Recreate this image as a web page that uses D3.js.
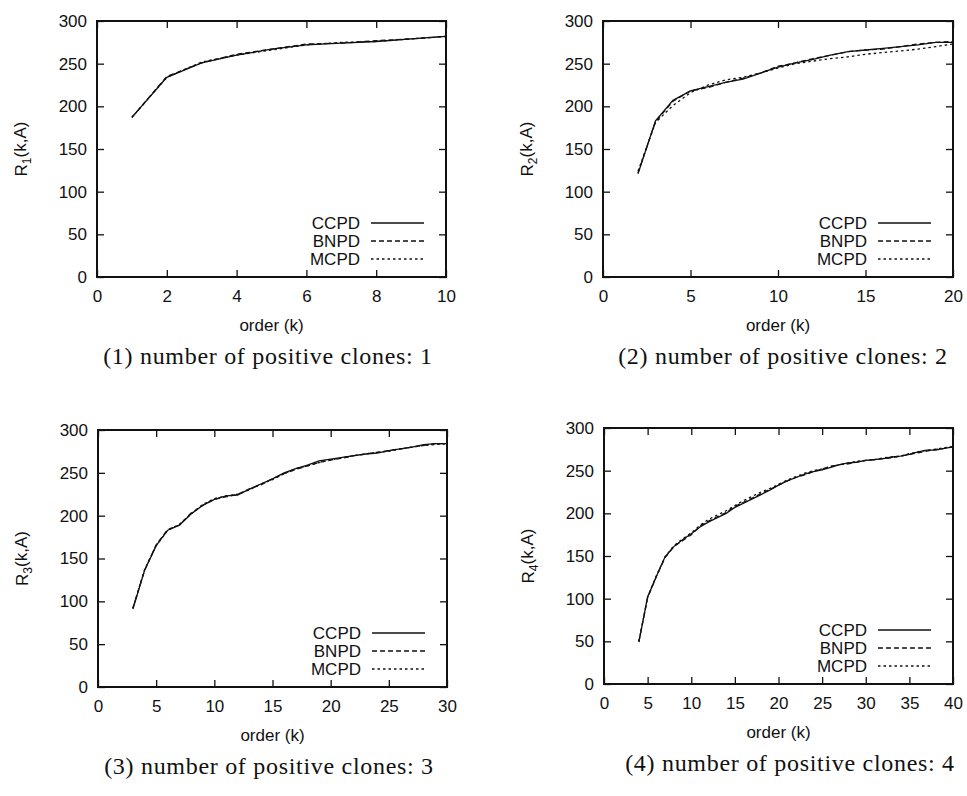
<!DOCTYPE html>
<html>
<head>
<meta charset="utf-8">
<script src="https://cdn.jsdelivr.net/npm/d3@7"></script>
<style>
  body { margin: 0; background: #fff; }
  .tick text, .lbl { font-family: "Liberation Sans Narrow", "Liberation Sans", Arial, sans-serif; font-size: 17px; fill: #111; }
  .cap { font-family: "Liberation Serif", "DejaVu Serif", serif; font-size: 24px; letter-spacing: 0.7px; fill: #111; }
</style>
</head>
<body>
<div id="chart"></div>
<script>
// order k per panel
const order1 = [1, 2, 3, 4, 5, 6, 7, 8, 9, 10];
const order2 = [2, 3, 4, 5, 6, 7, 8, 9, 10, 11, 12, 13, 14, 15, 16, 17, 18, 19, 20];
const order3 = [3, 4, 5, 6, 7, 8, 9, 10, 11, 12, 13, 14, 15, 16, 17, 18, 19, 20, 21, 22, 23, 24, 25, 26, 27, 28, 29, 30];
const order4 = [4, 5, 6, 7, 8, 9, 10, 11, 12, 13, 14, 15, 16, 17, 18, 19, 20, 21, 22, 23, 24, 25, 26, 27, 28, 29, 30, 31, 32, 33, 34, 35, 36, 37, 38, 39, 40];

// panel 1: one positive clone
const ccpd1 = [187, 234, 251, 260, 267, 272, 274, 276, 279, 282];
const bnpd1 = [187, 235, 251, 261, 267, 273, 274, 277, 279, 282];
const mcpd1 = [187, 234, 252, 260, 266, 272, 275, 276, 279, 282];

// panel 2: two positive clones
const ccpd2 = [121, 183, 207, 218, 223, 228, 232, 239, 246, 251, 255, 260, 264, 266, 268, 270, 272, 275, 275];
const bnpd2 = [122, 182, 206, 218, 222, 228, 233, 239, 247, 251, 256, 260, 264, 266, 267, 270, 273, 275, 276];
const mcpd2 = [124, 181, 201, 216, 225, 231, 234, 239, 245, 250, 253, 256, 258, 261, 263, 265, 267, 270, 273];

// panel 3: three positive clones
const ccpd3 = [91, 136, 165, 183, 189, 202, 212, 219, 223, 224, 231, 237, 243, 250, 255, 259, 264, 266, 268, 270, 272, 273, 276, 278, 280, 283, 284, 284];
const bnpd3 = [92, 136, 166, 184, 189, 203, 212, 219, 222, 225, 231, 236, 243, 249, 254, 258, 262, 265, 267, 270, 272, 274, 276, 278, 280, 282, 284, 284];
const mcpd3 = [92, 137, 165, 183, 190, 202, 213, 220, 223, 225, 230, 237, 242, 249, 255, 258, 262, 265, 268, 270, 272, 274, 275, 278, 280, 282, 283, 284];

// panel 4: four positive clones
const ccpd4 = [49, 102, 126, 149, 161, 169, 176, 184, 190, 195, 200, 207, 212, 217, 222, 227, 233, 238, 242, 246, 249, 251, 254, 257, 259, 260, 262, 263, 264, 266, 267, 269, 272, 274, 274, 276, 278];
const bnpd4 = [50, 101, 126, 148, 161, 168, 175, 185, 191, 196, 201, 208, 213, 218, 223, 228, 233, 238, 242, 245, 249, 252, 255, 257, 258, 260, 262, 263, 264, 265, 267, 269, 271, 273, 275, 276, 278];
const mcpd4 = [50, 102, 127, 149, 162, 170, 177, 186, 193, 198, 203, 209, 215, 220, 225, 229, 234, 239, 243, 247, 250, 252, 255, 257, 259, 261, 262, 263, 265, 266, 267, 270, 272, 274, 275, 277, 278];

const seriesNames = ["CCPD", "BNPD", "MCPD"];
const yTicks = [0, 50, 100, 150, 200, 250, 300];
const xTicks1 = [0, 2, 4, 6, 8, 10];
const xTicks2 = [0, 5, 10, 15, 20];
const xTicks3 = [0, 5, 10, 15, 20, 25, 30];
const xTicks4 = [0, 5, 10, 15, 20, 25, 30, 35, 40];
const captions = [
  "(1) number of positive clones: 1",
  "(2) number of positive clones: 2",
  "(3) number of positive clones: 3",
  "(4) number of positive clones: 4"
];

const panels = [
  { n: 1, k: order1, s: [ccpd1, bnpd1, mcpd1], xMax: 10, xt: xTicks1, box: [97, 446, 21, 277], capX: 268 },
  { n: 2, k: order2, s: [ccpd2, bnpd2, mcpd2], xMax: 20, xt: xTicks2, box: [603, 953, 21, 277], capX: 783 },
  { n: 3, k: order3, s: [ccpd3, bnpd3, mcpd3], xMax: 30, xt: xTicks3, box: [98, 447, 430, 687], capX: 269 },
  { n: 4, k: order4, s: [ccpd4, bnpd4, mcpd4], xMax: 40, xt: xTicks4, box: [604, 953, 428, 684], capX: 790 }
];

// line styles: solid, dashed, dotted
const dashes = ["none", "5,3", "2.5,3"];

const svg = d3.select("#chart")
  .append("svg")
  .attr("width", 967)
  .attr("height", 796);

panels.forEach(p => {
  const [x0, x1, y0, y1] = p.box;
  const x = d3.scaleLinear().domain([0, p.xMax]).range([x0, x1]);
  const y = d3.scaleLinear().domain([0, 300]).range([y1, y0]);
  const g = svg.append("g");

  // inward ticks on all four sides
  const axes = [
    [d3.axisLeft(y).tickValues(yTicks).tickPadding(10), `translate(${x0},0)`, true],
    [d3.axisRight(y).tickValues(yTicks), `translate(${x1},0)`, false],
    [d3.axisBottom(x).tickValues(p.xt).tickPadding(13), `translate(0,${y1})`, true],
    [d3.axisTop(x).tickValues(p.xt), `translate(0,${y0})`, false]
  ];
  axes.forEach(([ax, tr, showText]) => {
    const a = g.append("g")
      .attr("transform", tr)
      .call(ax.tickSizeInner(-7).tickSizeOuter(0));
    a.select(".domain").remove();
    a.selectAll("line").attr("stroke", "#111").attr("stroke-width", 1.3);
    a.attr("font-size", null).attr("font-family", null);
    if (!showText) a.selectAll("text").remove();
  });
  g.selectAll(".tick text").classed("lbl", true);

  // frame
  g.append("rect")
    .attr("x", x0).attr("y", y0)
    .attr("width", x1 - x0).attr("height", y1 - y0)
    .attr("fill", "none")
    .attr("stroke", "#111")
    .attr("stroke-width", 2);

  // curves
  const line = d3.line()
    .x((d, i) => x(p.k[i]))
    .y(d => y(d));
  p.s.forEach((vals, i) => {
    g.append("path")
      .datum(vals)
      .attr("fill", "none")
      .attr("stroke", "#111")
      .attr("stroke-width", 1.3)
      .attr("stroke-dasharray", dashes[i])
      .attr("d", line);
  });

  // legend
  const lx = x1 - 86;
  [54, 36, 18].forEach((off, i) => {
    g.append("text")
      .attr("class", "lbl")
      .attr("x", lx)
      .attr("y", y1 - off)
      .attr("dy", "0.35em")
      .attr("text-anchor", "end")
      .text(seriesNames[i]);
    g.append("line")
      .attr("x1", lx + 11).attr("x2", lx + 64)
      .attr("y1", y1 - off).attr("y2", y1 - off)
      .attr("stroke", "#111")
      .attr("stroke-width", 1.3)
      .attr("stroke-dasharray", dashes[i]);
  });

  // axis titles
  const yl = g.append("text")
    .attr("class", "lbl")
    .attr("text-anchor", "middle")
    .attr("transform", `translate(${x0 - 70},${(y0 + y1) / 2}) rotate(-90)`);
  yl.append("tspan").text("R");
  yl.append("tspan").attr("dy", "0.3em").attr("font-size", "12px").text(p.n);
  yl.append("tspan").attr("dy", "-0.3em").text("(k,A)");

  g.append("text")
    .attr("class", "lbl")
    .attr("text-anchor", "middle")
    .attr("x", (x0 + x1) / 2)
    .attr("y", y1 + 54)
    .text("order (k)");

  g.append("text")
    .attr("class", "cap")
    .attr("text-anchor", "middle")
    .attr("x", p.capX)
    .attr("y", y1 + 87)
    .text(captions[p.n - 1]);
});
</script>
</body>
</html>
